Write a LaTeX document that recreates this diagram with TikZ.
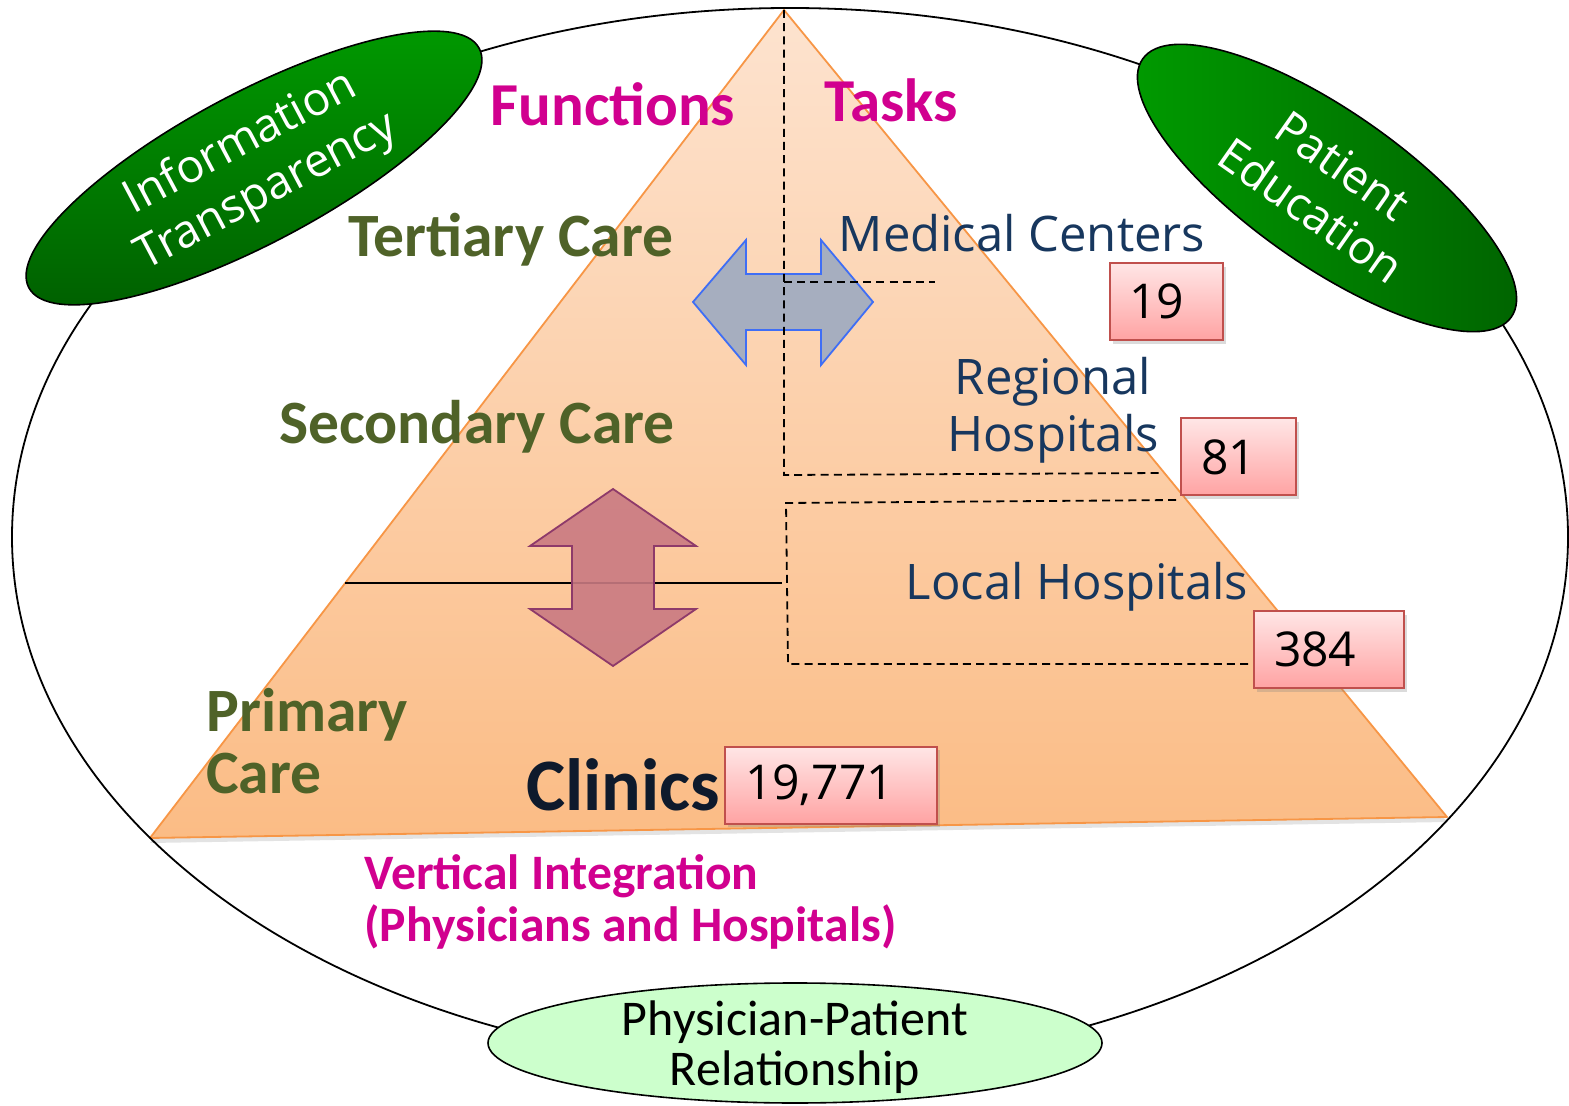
\documentclass[tikz,border=0pt]{standalone}
\usepackage{fontspec}
\setmainfont{Open Sans}
\newfontfamily\calfont{Carlito}
\usetikzlibrary{shapes.geometric,shadows}
\definecolor{cMag}{HTML}{D1008F}
\definecolor{cOlive}{HTML}{4F6228}
\definecolor{cNavy}{HTML}{17375E}
\definecolor{cTriEdge}{HTML}{F79646}
\definecolor{cTriTop}{HTML}{FDE3CF}
\definecolor{cTriBot}{HTML}{FBBC85}
\definecolor{cBoxEdge}{HTML}{C0504D}
\definecolor{cBoxTop}{HTML}{FFE6E6}
\definecolor{cBoxBot}{HTML}{FFA3A3}
\definecolor{cGrnA}{HTML}{009C00}
\definecolor{cGrnB}{HTML}{006200}
\definecolor{cLightGrn}{HTML}{CCFFCC}
\definecolor{cArrBlue}{HTML}{A6AEBF}
\definecolor{cArrBlueEdge}{HTML}{3F6EF5}
\definecolor{cArrRed}{HTML}{C97A82}
\definecolor{cArrRedEdge}{HTML}{8E3A6A}
\definecolor{cClin}{HTML}{0E1A2C}
\tikzset{
  dashline/.style={line width=0.9pt, dash pattern=on 4pt off 2.6pt},
  headtext/.style={font=\calfont\bfseries\fontsize{30.5}{30}\selectfont, text=cMag, inner sep=0pt},
  caretext/.style={font=\calfont\bfseries\fontsize{30.8}{30}\selectfont, text=cOlive, inner sep=0pt},
  tasktext/.style={font=\fontsize{24.5}{28.5}\selectfont, text=cNavy, inner sep=0pt, align=center},
  numbox/.style={draw=cBoxEdge, line width=1pt, top color=cBoxTop, bottom color=cBoxBot,
    drop shadow={shadow xshift=1.5pt, shadow yshift=-1.8pt, opacity=0.28},
    minimum height=38.5pt, inner xsep=10pt, inner ysep=0pt, align=left,
    font=\fontsize{24}{24}\selectfont, text=black},
  greenell/.style={ellipse, draw=black, line width=0.8pt, text=white, align=center,
    inner sep=0pt, font=\fontsize{23}{27.5}\selectfont}
}
\begin{document}
\begin{tikzpicture}[x=0.5pt,y=-0.5pt]
\useasboundingbox (0,0) rectangle (1569,1106);
\fill[white] (0,0) rectangle (1569,1106);

% pyramid
\coordinate (apex) at (784,10);
\coordinate (bl) at (150,838);
\coordinate (br) at (1447,817);
\path[drop shadow={shadow xshift=0pt, shadow yshift=-2.5pt, opacity=0.22},
  top color=cTriTop, bottom color=cTriBot, draw=cTriEdge, line width=0.9pt, line join=round]
  (apex) -- (br) -- (bl) -- cycle;

% outer ellipse
\draw[line width=0.9pt] (790,537) ellipse [x radius=778, y radius=529];

% solid separating line
\coordinate (sl1) at (345,583);
\coordinate (sl2) at (782,583);
\draw[line width=0.9pt] (sl1) -- (sl2);

% vertical double arrow
\filldraw[fill=cArrRed, fill opacity=0.9, draw=cArrRedEdge, line width=0.9pt, line join=miter]
  (613,489) -- (696,546) -- (654,546) -- (654,609) -- (696,609) -- (613,666)
  -- (530,609) -- (572,609) -- (572,546) -- (530,546) -- cycle;

% horizontal double arrow
\filldraw[fill=cArrBlue, draw=cArrBlueEdge, line width=0.9pt, line join=miter]
  (693,302) -- (746,240) -- (746,274) -- (821,274) -- (821,240) -- (873,302)
  -- (821,365) -- (821,330) -- (746,330) -- (746,365) -- cycle;

% dashed brackets
\coordinate (dA) at (784,475);
\coordinate (dB) at (1162,473);
\coordinate (dC) at (784,282);
\coordinate (dD) at (935,282);
\coordinate (eA) at (1176,500);
\coordinate (eB) at (786,503);
\coordinate (eC) at (788,664);
\coordinate (eD) at (1255,664);
\draw[dashline] (apex) -- (dA) -- (dB);
\draw[dashline] (dC) -- (dD);
\draw[dashline] (eA) -- (eB) -- (eC) -- (eD);

% headings
\node[headtext] (functions) at (613,104) {Functions};
\node[headtext] (tasks) at (891,100) {Tasks};

% care levels
\node[caretext] (tertiary) at (511,240) {Tertiary Care};
\node[caretext] (secondary) at (477,427) {Secondary Care};
\node[caretext, anchor=west, align=left, font=\calfont\bfseries\fontsize{30.8}{31}\selectfont] (primary) at (206,741) {Primary\\Care};

% tasks
\node[tasktext] (medical) at (1022,233) {Medical Centers};
\node[tasktext] (regional) at (1053,410) {Regional\\Hospitals};
\node[tasktext] (local) at (1077,587) {Local Hospitals};
\node[font=\calfont\bfseries\fontsize{37}{37}\selectfont, text=cClin, inner sep=0pt] (clinics) at (623,785) {Clinics};

% numbers
\node[numbox, text width=36.5pt] (n19) at (1166,301.5) {19};
\node[numbox, text width=37.5pt] (n81) at (1238.5,457) {81};
\node[numbox, text width=55pt] (n384) at (1329,649.5) {384};
\node[numbox, text width=86pt] (n19771) at (831,785) {19,771};

% vertical integration
\node[anchor=west, align=left, inner sep=0pt, text=cMag,
  font=\calfont\bfseries\fontsize{24.8}{26}\selectfont] (vint) at (364,902)
  {Vertical Integration\\(Physicians and Hospitals)};

% surrounding ellipses
\node[greenell, top color=cGrnA, bottom color=cGrnB, minimum width=255pt, minimum height=75pt, rotate=28]
  (info) at (254,168) {Information\\Transparency};
\node[greenell, left color=cGrnA, right color=cGrnB, minimum width=225pt, minimum height=77pt, rotate=-35]
  (patient) at (1327,188) {Patient\\Education};
\node[ellipse, draw=black, line width=0.8pt, fill=cLightGrn, minimum width=307pt, minimum height=60pt,
  inner sep=0pt, align=center, text depth=0pt, font=\calfont\fontsize{25}{25}\selectfont]
  (relation) at (795,1043) {Physician-Patient\\Relationship};
\end{tikzpicture}
\end{document}
